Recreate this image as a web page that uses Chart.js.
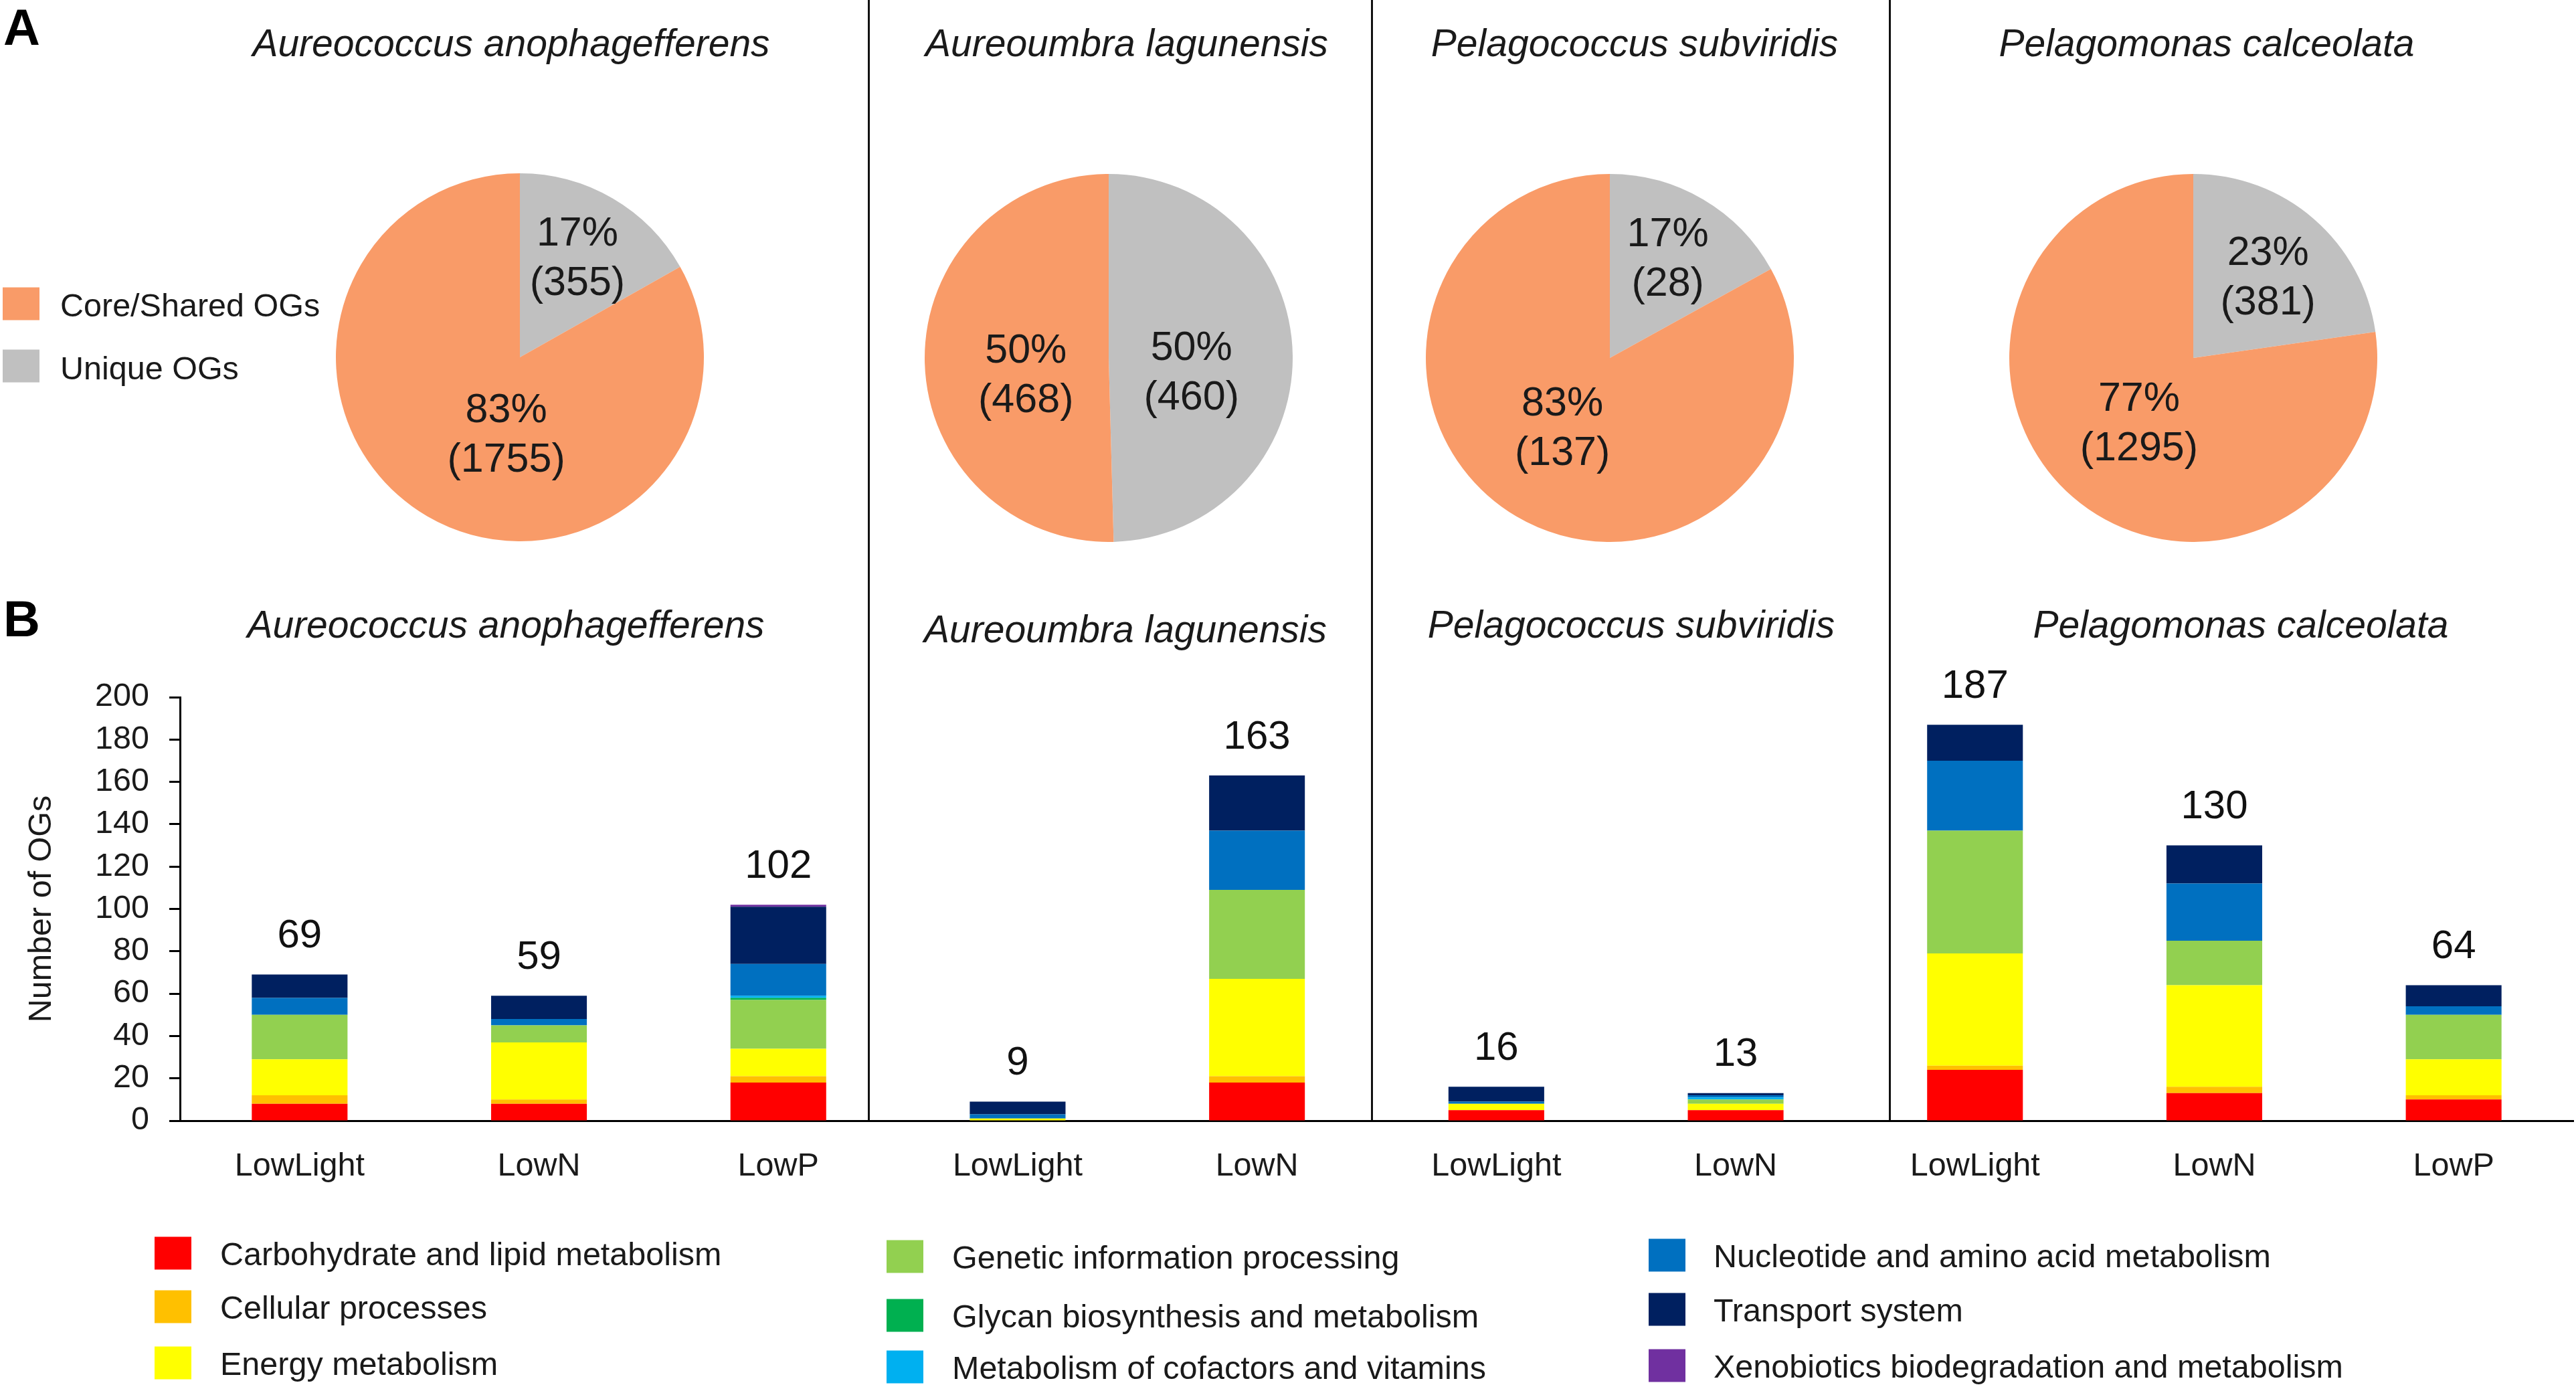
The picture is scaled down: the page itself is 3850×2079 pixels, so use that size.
<!DOCTYPE html>
<html><head><meta charset="utf-8">
<script src="https://cdn.jsdelivr.net/npm/chart.js@4.4.0/dist/chart.umd.min.js"></script>
<style>
html,body{margin:0;padding:0;background:#fff;}
#page{position:relative;width:3850px;height:2079px;overflow:hidden;background:#fff;font-family:"Liberation Sans",Arial,sans-serif;color:#1a1a1a;}
.abs{position:absolute;}
.c{position:absolute;transform:translate(-50%,-50%);white-space:nowrap;line-height:1;}
.title{font-style:italic;font-size:57px;}
.panel{font-weight:bold;font-size:76px;color:#000;}
.lg{position:absolute;font-size:48.5px;transform:translateY(-50%);white-space:nowrap;line-height:1;}
.sw{position:absolute;width:55px;height:49px;transform:translateY(-50%);}
.vdiv{position:absolute;width:3px;background:#111;top:0;height:1676px;}
canvas{display:block;}
</style></head>
<body><div id="page"></div>
<script>
// ---------- DATA ----------
const species = ['Aureococcus anophagefferens','Aureoumbra lagunensis','Pelagococcus subviridis','Pelagomonas calceolata'];
const pieLabels = ['Unique OGs','Core/Shared OGs'];
const uniqueOGs = [355, 460, 28, 381];
const coreOGs = [1755, 468, 137, 1295];

const conditions = ['LowLight','LowN','LowP','LowLight','LowN','LowLight','LowN','LowLight','LowN','LowP'];
const categories = ['Carbohydrate and lipid metabolism','Cellular processes','Energy metabolism',
  'Genetic information processing','Glycan biosynthesis and metabolism','Metabolism of cofactors and vitamins',
  'Nucleotide and amino acid metabolism','Transport system','Xenobiotics biodegradation and metabolism'];
const carbLipid   = [8, 8, 18, 0, 18, 5, 5, 24, 13, 10];
const cellular    = [4, 2, 3, 0, 3, 0, 0, 2, 3, 2];
const energy      = [17, 27, 13, 1, 46, 3, 3, 53, 48, 17];
const genetic     = [21, 8, 23, 0, 42, 0, 2, 58, 21, 21];
const glycan      = [0, 0, 1, 0, 0, 0, 0, 0, 0, 0];
const cofactors   = [0, 0, 1, 0, 0, 0, 1, 0, 0, 0];
const nucleotide  = [8, 3, 15, 2, 28, 1, 1, 33, 27, 4];
const transport   = [11, 11, 27, 6, 26, 7, 1, 17, 18, 10];
const xenobiotics = [0, 0, 1, 0, 0, 0, 0, 0, 0, 0];
const totalLabels = [69, 59, 102, 9, 163, 16, 13, 187, 130, 64];
const yTicks = [0, 20, 40, 60, 80, 100, 120, 140, 160, 180, 200];

// ---------- STYLE ----------
const seriesValues = [carbLipid, cellular, energy, genetic, glycan, cofactors, nucleotide, transport, xenobiotics];
const seriesColors = ['#FF0000','#FFC000','#FFFF00','#92D050','#00B050','#00B0F0','#0070C0','#002060','#7030A0'];
const pieColors = ['#C0C0C0','#F99B68'];
const FONT = '"Liberation Sans", Arial, sans-serif';
const TXT = '#1a1a1a';
const AXFS = 48.5;
// small label nudges per pie [unique slice, core slice] in px (label placement style)
const pieNudge = [[[0,0],[42,10]], [[0,25],[0,25]], [[0,0],[-8,0]], [[0,10],[0,6]]];

const page = document.getElementById('page');
function el(tag, cls, css, text){ const e=document.createElement(tag); if(cls) e.className=cls; Object.assign(e.style, css||{}); if(text!==undefined) e.textContent=text; page.appendChild(e); return e; }

// panel letters
el('div','panel',{position:'absolute',left:'5px',top:'3px',lineHeight:'1'},'A');
el('div','panel',{position:'absolute',left:'5px',top:'887px',lineHeight:'1'},'B');

// dividers
[1298, 2050, 2824].forEach(x=>el('div','vdiv',{left:(x-1.5)+'px'}));

// titles
const pieTitleX = [764, 1684, 2443, 3298];
const barTitleX = [756, 1682, 2438, 3349];
const barTitleY = [933, 940, 933, 933];
species.forEach((s,i)=>{
  el('div','c title',{left:pieTitleX[i]+'px',top:'64px'},s);
  el('div','c title',{left:barTitleX[i]+'px',top:barTitleY[i]+'px'},s);
});

// pie legend (top-left)
el('div','sw',{left:'4px',top:'454px',background:pieColors[1]});
el('div','lg',{left:'90px',top:'456px'},pieLabels[1]);
el('div','sw',{left:'4px',top:'547px',background:pieColors[0]});
el('div','lg',{left:'90px',top:'550px'},pieLabels[0]);

// bottom legend (column-major, 3 rows)
const legSwX = [231, 1325, 2464];
const legTxX = [329, 1423, 2561];
const legRowY = [[1873,1953,2037],[1878,1966,2043],[1876,1957,2041]];
categories.forEach((name,i)=>{
  const col = Math.floor(i/3), row = i%3;
  el('div','sw',{left:legSwX[col]+'px',top:legRowY[col][row]+'px',background:seriesColors[i]});
  el('div','lg',{left:legTxX[col]+'px',top:(legRowY[col][row]+1)+'px'},name);
});

// ---------- PIES ----------
const pieCenters = [[777,534],[1657,535],[2406,535],[3278,535]];
const PR = 275;
function makePieLabelPlugin(idx){
  return {
    id:'pieLabels'+idx,
    afterDatasetsDraw(chart){
      const ctx = chart.ctx; const meta = chart.getDatasetMeta(0);
      const vals = chart.data.datasets[0].data; const sum = vals.reduce((a,b)=>a+b,0);
      ctx.save();
      ctx.fillStyle = TXT; ctx.font = '61px '+FONT; ctx.textAlign='center'; ctx.textBaseline='middle';
      meta.data.forEach((arc,i)=>{
        const p = arc.getProps(['x','y','startAngle','endAngle','outerRadius'], true);
        const share = vals[i]/sum;
        const mid = (p.startAngle+p.endAngle)/2;
        const f = share < 0.3 ? 0.62 : 0.45;
        const cx = p.x + Math.cos(mid)*p.outerRadius*f + pieNudge[idx][i][0];
        const cy = p.y + Math.sin(mid)*p.outerRadius*f + pieNudge[idx][i][1];
        ctx.fillText(Math.round(share*100)+'%', cx, cy-37);
        ctx.fillText('('+vals[i]+')', cx, cy+37);
      });
      ctx.restore();
    }
  };
}
species.forEach((s,i)=>{
  const wrap = el('div','abs',{left:(pieCenters[i][0]-PR)+'px',top:(pieCenters[i][1]-PR)+'px',width:(2*PR)+'px',height:(2*PR)+'px'});
  const cv = document.createElement('canvas'); cv.width=2*PR; cv.height=2*PR; wrap.appendChild(cv);
  new Chart(cv,{
    type:'pie',
    data:{labels:pieLabels,datasets:[{data:[uniqueOGs[i],coreOGs[i]],backgroundColor:pieColors,borderWidth:0}]},
    options:{responsive:false,animation:false,devicePixelRatio:1,layout:{padding:0},
      plugins:{legend:{display:false},tooltip:{enabled:false}}},
    plugins:[makePieLabelPlugin(i)]
  });
});

// ---------- BARS ----------
const barWrap = el('div','abs',{left:'0px',top:'900px',width:'3850px',height:'900px'});
const bcv = document.createElement('canvas'); bcv.width=3850; bcv.height=900; barWrap.appendChild(bcv);
const totalPlugin = {
  id:'totals',
  afterDatasetsDraw(chart){
    const ctx=chart.ctx, xs=chart.scales.x, ys=chart.scales.y;
    ctx.save(); ctx.fillStyle='#111'; ctx.font='60px '+FONT; ctx.textAlign='center'; ctx.textBaseline='middle';
    totalLabels.forEach((t,i)=>{ ctx.fillText(String(t), xs.getPixelForValue(i), ys.getPixelForValue(t)-57); });
    ctx.restore();
  }
};
new Chart(bcv,{
  type:'bar',
  data:{labels:conditions,datasets:categories.map((c,k)=>({label:c,data:seriesValues[k],backgroundColor:seriesColors[k],borderWidth:0,categoryPercentage:1,barPercentage:0.4,stack:'s'}))},
  options:{
    responsive:false,animation:false,devicePixelRatio:1,
    layout:{padding:{top:142,right:4,left:0,bottom:0}},
    plugins:{legend:{display:false},tooltip:{enabled:false}},
    scales:{
      x:{stacked:true,grid:{display:false},border:{display:true,color:'#000',width:3},
        ticks:{font:{family:FONT,size:AXFS},color:TXT,padding:32,maxRotation:0,autoSkip:false},
        afterFit(s){s.height=125;}},
      y:{stacked:true,min:0,max:200,
        afterBuildTicks(s){s.ticks=yTicks.map(v=>({value:v}));},
        grid:{drawOnChartArea:false,drawTicks:true,tickLength:16,tickWidth:3,tickColor:'#000'},
        border:{display:true,color:'#000',width:3},
        ticks:{font:{family:FONT,size:AXFS},color:TXT,padding:30},
        title:{display:true,text:'Number of OGs',font:{family:FONT,size:AXFS},color:TXT,padding:{top:34,bottom:0}},
        afterFit(s){s.width=269;}}
    }
  },
  plugins:[totalPlugin]
});
</script>
</body></html>
